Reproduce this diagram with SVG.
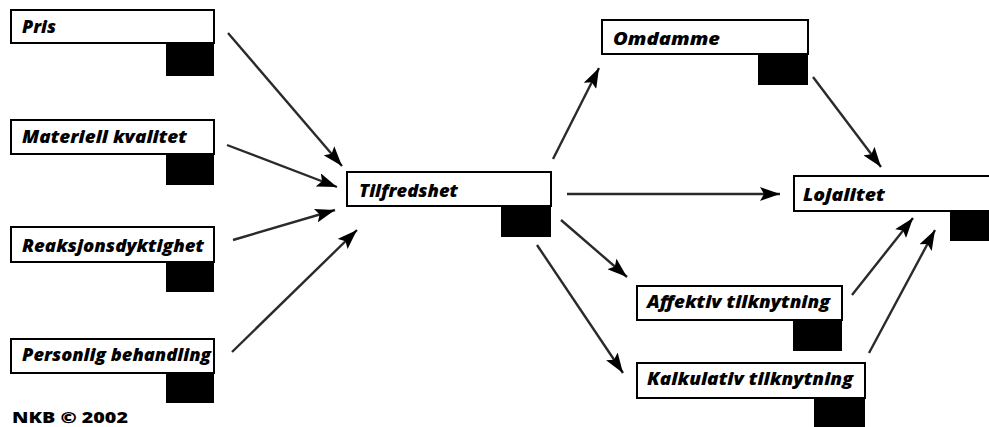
<svg xmlns="http://www.w3.org/2000/svg" width="989" height="427" viewBox="0 0 989 427">
  <style>
    .box { fill: #ffffff; stroke: #000000; stroke-width: 2; }
    .tab { fill: #000000; }
    .label { font-family: "Open Sans", "Liberation Sans", sans-serif; font-weight: 800; font-style: italic; font-size: 18px; fill: #000000; }
    .credit { font-family: "Open Sans", "Liberation Sans", sans-serif; font-weight: 800; font-size: 15px; fill: #000000; }
    .link { stroke: #2a2a2a; stroke-width: 2.4; fill: none; marker-end: url(#head); }
  </style>
  <defs>
    <marker id="head" markerUnits="userSpaceOnUse" markerWidth="22" markerHeight="14" refX="20" refY="7" orient="auto">
      <path d="M0,0 L20,7 L0,14 L4,7 Z" fill="#000000"/>
    </marker>
  </defs>

  <rect width="989" height="427" fill="#ffffff"/>

  <g id="connectors">
    <line class="link" x1="228" y1="33" x2="342" y2="166"/>
    <line class="link" x1="227" y1="145" x2="337" y2="187"/>
    <line class="link" x1="233" y1="240" x2="335" y2="210"/>
    <line class="link" x1="232" y1="352" x2="357" y2="230"/>
    <line class="link" x1="553" y1="159" x2="599" y2="68"/>
    <line class="link" x1="567" y1="194" x2="780" y2="194"/>
    <line class="link" x1="561" y1="220" x2="627" y2="277"/>
    <line class="link" x1="537" y1="245" x2="623" y2="373"/>
    <line class="link" x1="813" y1="77" x2="881" y2="167"/>
    <line class="link" x1="852" y1="295" x2="913" y2="218"/>
    <line class="link" x1="869" y1="353" x2="935" y2="230"/>
  </g>

  <g id="pris">
    <rect class="box" x="11" y="10" width="203" height="33"/>
    <rect class="tab" x="166" y="43" width="48" height="33"/>
    <text class="label" x="22" y="33">Pris</text>
  </g>

  <g id="materiell-kvalitet">
    <rect class="box" x="11" y="120" width="203" height="34"/>
    <rect class="tab" x="166" y="154" width="48" height="31"/>
    <text class="label" x="22" y="143" textLength="165" lengthAdjust="spacingAndGlyphs">Materiell kvalitet</text>
  </g>

  <g id="reaksjonsdyktighet">
    <rect class="box" x="11" y="227" width="203" height="35"/>
    <rect class="tab" x="166" y="262" width="48" height="30"/>
    <text class="label" x="22" y="252" textLength="182" lengthAdjust="spacingAndGlyphs">Reaksjonsdyktighet</text>
  </g>

  <g id="personlig-behandling">
    <rect class="box" x="11" y="339" width="203" height="34"/>
    <rect class="tab" x="166" y="373" width="48" height="30"/>
    <text class="label" x="22" y="361" textLength="189" lengthAdjust="spacingAndGlyphs">Personlig behandling</text>
  </g>

  <g id="tilfredshet">
    <rect class="box" x="347" y="172" width="204" height="34"/>
    <rect class="tab" x="501" y="206" width="50" height="31"/>
    <text class="label" x="359" y="197" textLength="99" lengthAdjust="spacingAndGlyphs">Tilfredshet</text>
  </g>

  <g id="omdamme">
    <rect class="box" x="602" y="20" width="206" height="34"/>
    <rect class="tab" x="758" y="54" width="50" height="31"/>
    <text class="label" x="613" y="45" textLength="107" lengthAdjust="spacingAndGlyphs">Omdamme</text>
  </g>

  <g id="lojalitet">
    <rect class="box" x="794" y="176" width="210" height="35"/>
    <rect class="tab" x="950" y="211" width="45" height="30"/>
    <text class="label" x="803" y="201" textLength="82" lengthAdjust="spacingAndGlyphs">Lojalitet</text>
  </g>

  <g id="affektiv-tilknytning">
    <rect class="box" x="637" y="286" width="205" height="34"/>
    <rect class="tab" x="793" y="320" width="49" height="31"/>
    <text class="label" x="647" y="308" textLength="183" lengthAdjust="spacingAndGlyphs">Affektiv tilknytning</text>
  </g>

  <g id="kalkulativ-tilknytning">
    <rect class="box" x="637" y="363" width="228" height="35"/>
    <rect class="tab" x="814" y="398" width="51" height="32"/>
    <text class="label" x="647" y="385" textLength="206" lengthAdjust="spacingAndGlyphs">Kalkulativ tilknytning</text>
  </g>

  <text class="credit" x="12" y="423" textLength="116" lengthAdjust="spacingAndGlyphs">NKB © 2002</text>
</svg>
